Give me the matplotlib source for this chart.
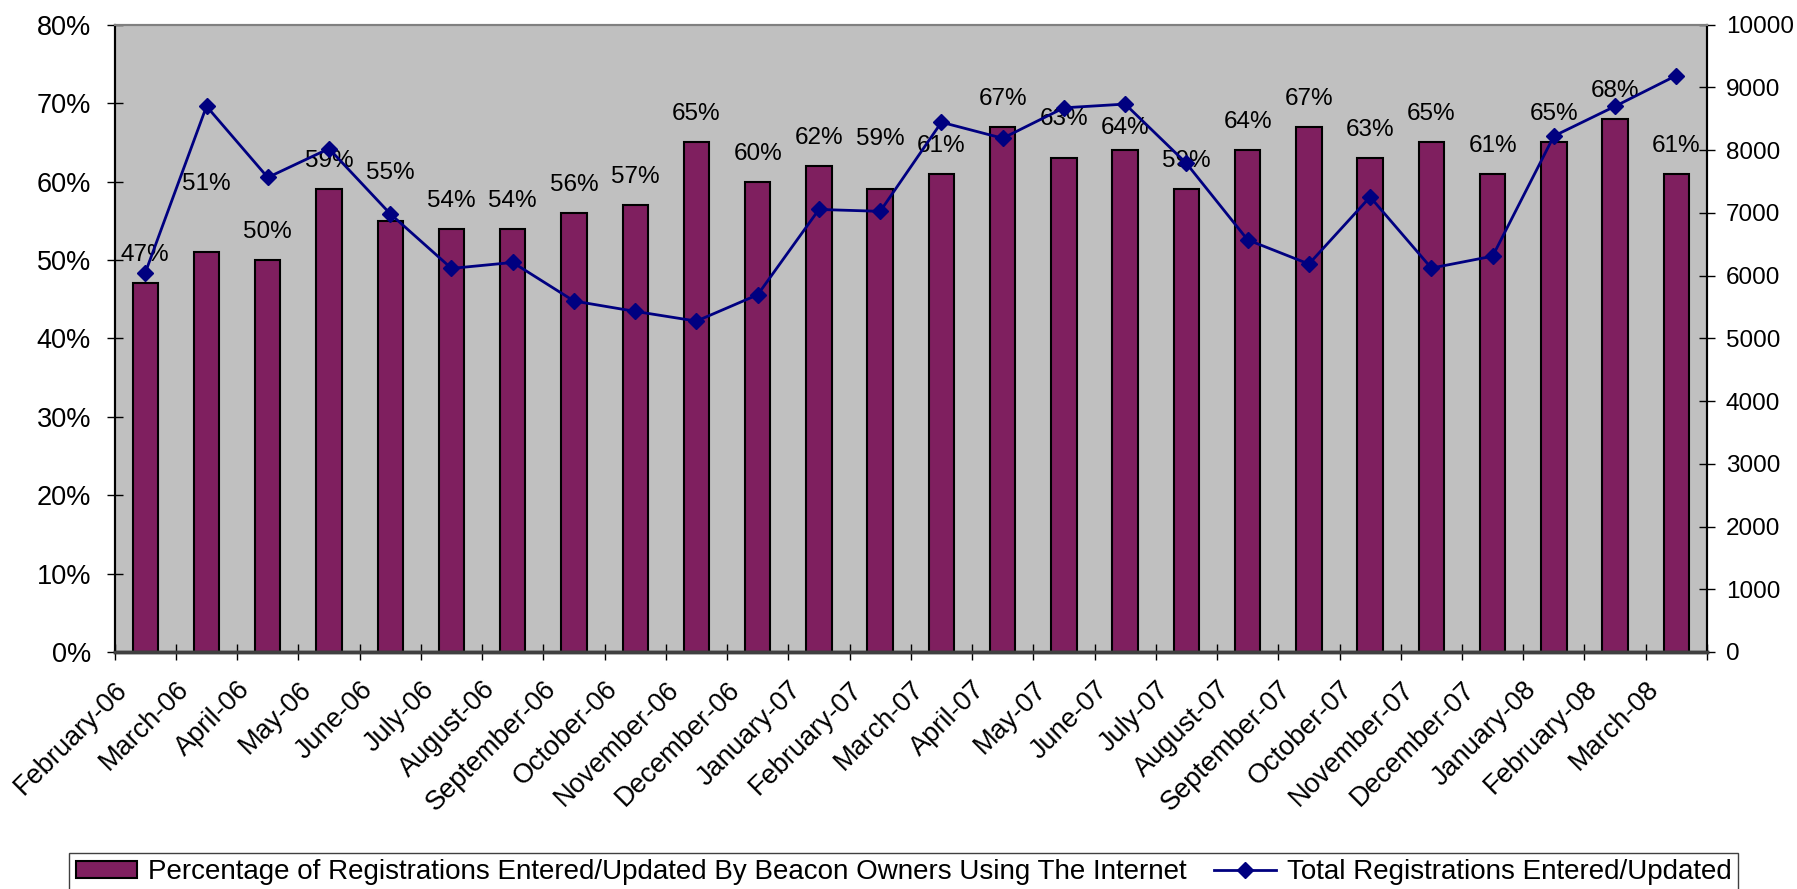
import numpy as np
import matplotlib.pyplot as plt
from matplotlib.ticker import FuncFormatter

plt.rcParams['font.family'] = ['Liberation Sans', 'DejaVu Sans']

# Months Feb-06 .. Mar-08
months = ["February-06", "March-06", "April-06", "May-06", "June-06", "July-06",
          "August-06", "September-06", "October-06", "November-06", "December-06",
          "January-07", "February-07", "March-07", "April-07", "May-07", "June-07",
          "July-07", "August-07", "September-07", "October-07", "November-07",
          "December-07", "January-08", "February-08", "March-08"]

# share entered/updated by owners online (%)
pct_online = [47, 51, 50, 59, 55, 54, 54, 56, 57, 65, 60, 62, 59,
              61, 67, 63, 64, 59, 64, 67, 63, 65, 61, 65, 68, 61]

# total registrations entered/updated
total_regs = [6045, 8700, 7565, 8025, 6985, 6115, 6210, 5595, 5430, 5275, 5695, 7055, 7025,
              8445, 8190, 8675, 8735, 7790, 6570, 6185, 7255, 6120, 6310, 8225, 8700, 9190]

bar_label = "Percentage of Registrations Entered/Updated By Beacon Owners Using The Internet"
line_label = "Total Registrations Entered/Updated"

fig = plt.figure(figsize=(17.97, 8.89), dpi=100)
fig.subplots_adjust(left=0.0638, right=0.9499, top=0.9722, bottom=0.2666)
ax = fig.add_subplot(111)
ax.set_facecolor('#C0C0C0')

x = np.arange(len(months))
pct = np.array(pct_online) / 100.0
ax.bar(x, pct, width=0.415, color='#7F1F5F', edgecolor='black', linewidth=1.5,
       label=bar_label, zorder=2)

# a few labels sit a bit higher in the original (extra px)
nudge = {1: 40, 4: 20, 12: 22, 15: 11, 16: -6}
for i, v in enumerate(pct_online):
    ax.annotate(f"{v}%", (x[i], pct[i]), xytext=(0, (17 + nudge.get(i, 0)) * 0.72),
                textcoords='offset points', ha='center', va='bottom', fontsize=17.5,
                color='black', zorder=3)

ax.set_xlim(-0.5, len(months) - 0.5)
ax.set_ylim(0, 0.8)
ax.set_yticks(np.arange(0, 0.81, 0.1))
ax.yaxis.set_major_formatter(FuncFormatter(lambda v, p: f"{v * 100:.0f}%"))
ax.tick_params(axis='y', direction='inout', length=12, width=1, labelsize=19.5, pad=11)

bounds = np.arange(len(months) + 1) - 0.5
ax.set_xticks(bounds)
ax.set_xticklabels(months + [""], rotation=45, ha='right', va='top',
                   rotation_mode='anchor', fontsize=19.5)
ax.tick_params(axis='x', direction='inout', length=12, width=1, pad=11.5)

ax2 = ax.twinx()
ax2.plot(x, total_regs, color='#000080', linewidth=2, marker='D', markersize=8.5,
         label=line_label, zorder=4)
ax2.set_ylim(0, 10000)
ax2.set_yticks(np.arange(0, 10001, 1000))
ax2.tick_params(axis='y', direction='inout', length=12, width=1, labelsize=17.5, pad=7.5)

for a in (ax, ax2):
    a.spines['left'].set_color('black')
    a.spines['left'].set_linewidth(1.5)
    a.spines['right'].set_color('black')
    a.spines['right'].set_linewidth(1.5)
    a.spines['top'].set_color('#808080')
    a.spines['top'].set_linewidth(1.5)
    a.spines['bottom'].set_color('#404040')
    a.spines['bottom'].set_linewidth(2.5)

h1, l1 = ax.get_legend_handles_labels()
h2, l2 = ax2.get_legend_handles_labels()
leg = fig.legend(h1 + h2, l1 + l2, loc='upper left', ncol=2, mode='expand',
                 bbox_to_anchor=(0.0384, 0.0, 0.9288, 0.0408), borderaxespad=0,
                 fontsize=20, fancybox=False, edgecolor='#404040', framealpha=1,
                 handlelength=2.2, handleheight=0.55, handletextpad=0.4,
                 borderpad=0.24)
leg.get_frame().set_linewidth(1)

plt.savefig('out.png', dpi=100)
